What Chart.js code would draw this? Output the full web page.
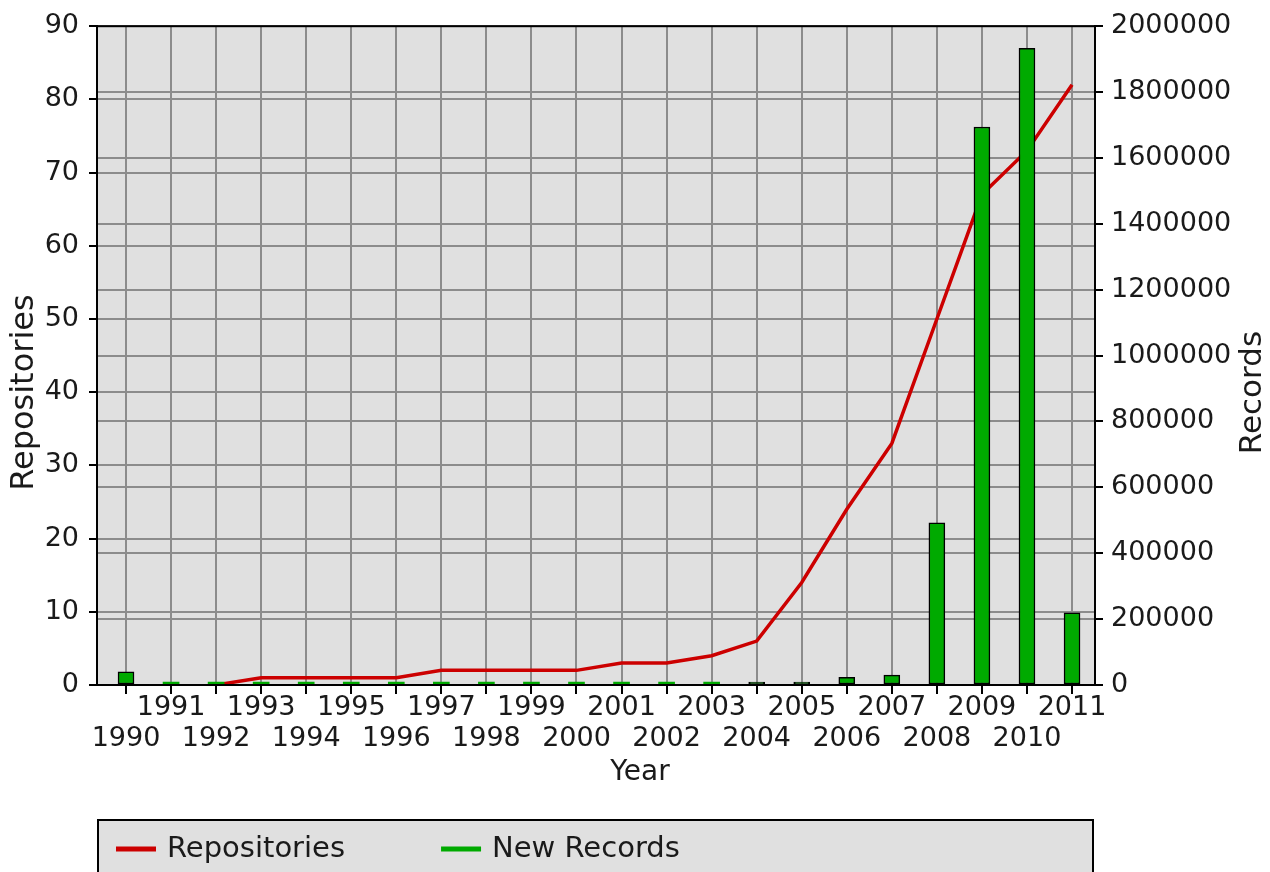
<!DOCTYPE html>
<html>
<head>
<meta charset="utf-8">
<script src="https://cdn.jsdelivr.net/npm/chart.js@4/dist/chart.umd.min.js"></script>
<style>
  html, body { margin: 0; padding: 0; background: #fff; }
  #wrap { width: 1270px; height: 872px; position: relative; }
</style>
</head>
<body>
<div id="wrap"><canvas id="chart"></canvas></div>
<script>
// Data
var years = [1990, 1991, 1992, 1993, 1994, 1995, 1996, 1997, 1998, 1999, 2000,
             2001, 2002, 2003, 2004, 2005, 2006, 2007, 2008, 2009, 2010, 2011];
var repositories = [null, null, 0, 1, 1, 1, 1, 2, 2, 2, 2,
                    3, 3, 4, 6, 14, 24, 33, 50, 67, 73, 82];
var newRecords = [40000, 0, 0, 0, 0, 0, 0, 0, 0, 0, 0,
                  0, 0, 0, 3000, 4000, 23000, 30000, 492000, 1694000, 1933000, 219000];
var leftTicks = { min: 0, max: 90, step: 10 };
var rightTicks = { min: 0, max: 2000000, step: 200000 };
var titles = { x: 'Year', y: 'Repositories', y1: 'Records' };

var FONT = 'DejaVu Sans';
var TEXT = '#1a1a1a';
var GRID = '#8c8c8c';

function toPoints(vals) {
  return years.map(function (y, i) { return { x: y, y: vals[i] }; });
}

function drawText(c, text, x, y, size, rot) {
  c.save();
  c.translate(x, y);
  if (rot) c.rotate(rot);
  c.font = size + 'px ' + FONT;
  c.fillStyle = TEXT;
  c.textAlign = 'center';
  c.textBaseline = 'middle';
  c.fillText(text, 0, 0);
  c.restore();
}

// plot background + frame, axis titles
var framePlugin = {
  id: 'frame',
  beforeDraw: function (chart) {
    var a = chart.chartArea, c = chart.ctx;
    c.save();
    c.fillStyle = '#e0e0e0';
    c.fillRect(a.left, a.top, a.right - a.left, a.bottom - a.top);
    c.restore();
  },
  afterDraw: function (chart) {
    var a = chart.chartArea, c = chart.ctx;
    c.save();
    c.strokeStyle = '#000';
    c.lineWidth = 2;
    c.strokeRect(a.left, a.top, a.right - a.left, a.bottom - a.top);
    c.restore();

    var midY = (a.top + a.bottom) / 2 + 37;
    drawText(c, titles.y, chart.scales.y.left + 25, midY, 32, -Math.PI / 2);
    drawText(c, titles.y1, chart.scales.y1.right - 17, midY, 31, -Math.PI / 2);
    drawText(c, titles.x, (a.left + a.right) / 2 + 44, a.bottom + 88, 28, 0);
  }
};

// legend box drawn under the x axis
var legendPlugin = {
  id: 'boxLegend',
  afterDraw: function (chart) {
    var c = chart.ctx;
    var top = 820, left = 98, right = 1093;
    c.save();
    c.fillStyle = '#e0e0e0';
    c.fillRect(left, top, right - left, 80);
    c.strokeStyle = '#000';
    c.lineWidth = 2;
    c.strokeRect(left, top, right - left, 80);
    c.font = '29px ' + FONT;
    c.textBaseline = 'middle';
    var x = 116, y = 849;
    chart.data.datasets.forEach(function (ds) {
      c.strokeStyle = ds.legendColor;
      c.lineWidth = 5;
      c.beginPath();
      c.moveTo(x, y);
      c.lineTo(x + 40, y);
      c.stroke();
      c.fillStyle = TEXT;
      c.fillText(ds.label, x + 51, y);
      x += 51 + c.measureText(ds.label).width + 96;
    });
    c.restore();
  }
};

new Chart(document.getElementById('chart'), {
  type: 'bar',
  data: {
    datasets: [
      {
        type: 'line',
        label: 'Repositories',
        data: toPoints(repositories),
        yAxisID: 'y',
        borderColor: '#cc0000',
        legendColor: '#cc0000',
        borderWidth: 3.5,
        pointRadius: 0,
        tension: 0,
        spanGaps: false,
        order: 2
      },
      {
        type: 'bar',
        label: 'New Records',
        data: toPoints(newRecords),
        yAxisID: 'y1',
        backgroundColor: '#00aa00',
        legendColor: '#00aa00',
        borderColor: '#000',
        borderWidth: function (ctx) { return ctx.raw && ctx.raw.y === 0 ? 0 : 1.5; },
        borderSkipped: false,
        minBarLength: 3,
        barThickness: 16,
        order: 1
      }
    ]
  },
  options: {
    responsive: true,
    maintainAspectRatio: false,
    animation: false,
    layout: { padding: { top: 22, bottom: 72, left: 0, right: 0 } },
    plugins: { legend: { display: false }, tooltip: { enabled: false } },
    scales: {
      x: {
        type: 'linear',
        position: 'bottom',
        offset: false,
        min: 1989.356,
        max: 2011.51,
        afterFit: function (s) { s.height = 115; },
        grid: { offset: false, color: GRID, lineWidth: 2, tickColor: '#000', tickLength: 9, tickWidth: 2 },
        border: { color: '#000', width: 2 },
        afterBuildTicks: function (s) {
          s.ticks = years.map(function (y) { return { value: y }; });
        },
        ticks: {
          autoSkip: false,
          maxRotation: 0,
          padding: -2,
          color: TEXT,
          font: { family: FONT, size: 27, lineHeight: 1.15 },
          callback: function (v) {
            return v % 2 === 1 ? [String(v)] : ['', String(v)];
          }
        }
      },
      y: {
        position: 'left',
        min: leftTicks.min,
        max: leftTicks.max,
        afterFit: function (s) { s.width = 97; },
        grid: { color: GRID, lineWidth: 2, tickColor: '#000', tickLength: 8, tickWidth: 2 },
        border: { color: '#000', width: 2 },
        ticks: {
          stepSize: leftTicks.step,
          padding: 10,
          color: TEXT,
          font: { family: FONT, size: 27 }
        }
      },
      y1: {
        position: 'right',
        min: rightTicks.min,
        max: rightTicks.max,
        afterFit: function (s) { s.width = 175; },
        grid: { color: GRID, lineWidth: 2, tickColor: '#000', tickLength: 8, tickWidth: 2 },
        border: { color: '#000', width: 2 },
        ticks: {
          stepSize: rightTicks.step,
          padding: 8,
          color: TEXT,
          font: { family: FONT, size: 27 },
          callback: function (v) { return String(v); }
        }
      }
    }
  },
  plugins: [framePlugin, legendPlugin]
});
</script>
</body>
</html>
